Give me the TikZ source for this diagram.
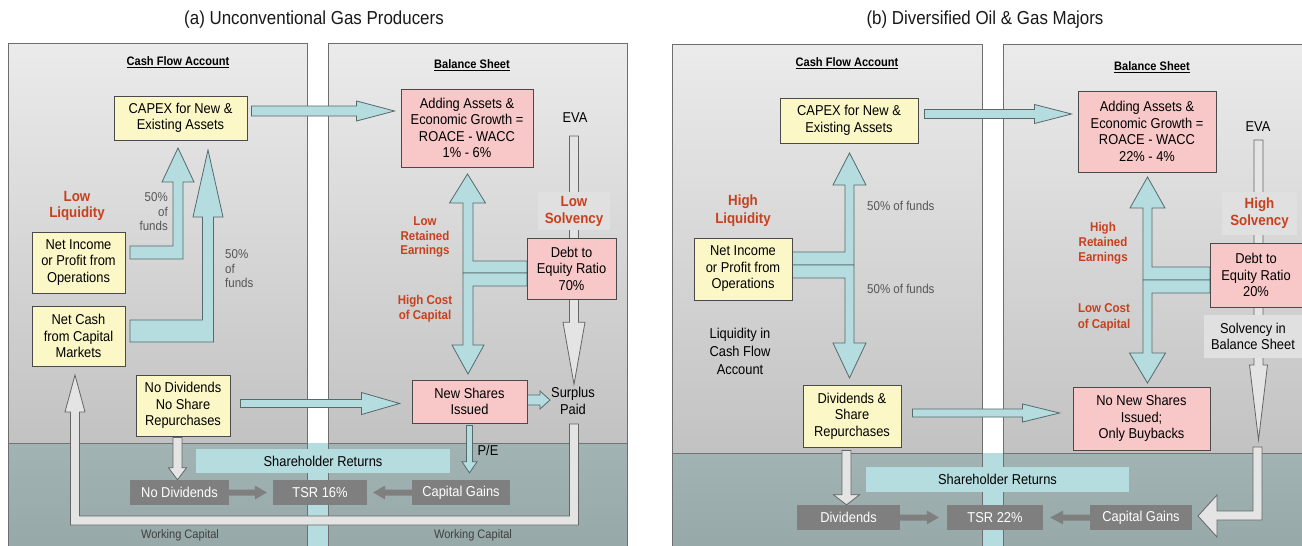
\documentclass[tikz,border=0pt]{standalone}
\usepackage{fontspec}
\setmainfont[FakeStretch=0.9]{Liberation Sans}
\usetikzlibrary{calc}
\pgfdeclarelayer{bg}
\pgfdeclarelayer{arr}
\pgfsetlayers{bg,arr,main}
\definecolor{cy}{HTML}{B5DDE0}
\definecolor{cyb}{HTML}{56696B}
\definecolor{yel}{HTML}{FBF7C6}
\definecolor{pnk}{HTML}{F8C8C8}
\definecolor{bx}{HTML}{4A4A4A}
\definecolor{dg}{HTML}{7F7F7F}
\definecolor{lg}{HTML}{E4E4E4}
\definecolor{rd}{HTML}{C8401E}
\definecolor{pnl}{HTML}{6E6E6E}
\definecolor{ptop}{HTML}{EBEBEB}
\definecolor{pbot}{HTML}{C2C2C2}
\definecolor{btop}{HTML}{A2B3B3}
\definecolor{bbot}{HTML}{96A8A8}
\definecolor{lblbg}{HTML}{E0E0E0}
\definecolor{smallgray}{HTML}{555555}
\newcommand\HArr[6]{\path[#1] let \p1=(#2), \p2=(#3) in
  (\x1,\y1+#4) -- (\x2-#6,\y1+#4) -- (\x2-#6,\y1+#5) -- (\x2,\y1) --
  (\x2-#6,\y1-#5) -- (\x2-#6,\y1-#4) -- (\x1,\y1-#4) -- cycle;}
\newcommand\VArr[6]{\path[#1] let \p1=(#2), \p2=(#3) in
  (\x1+#4,\y1) -- (\x1+#4,\y2-#6) -- (\x1+#5,\y2-#6) -- (\x1,\y2) --
  (\x1-#5,\y2-#6) -- (\x1-#4,\y2-#6) -- (\x1-#4,\y1) -- cycle;}
\begin{document}
\begin{tikzpicture}[x=1pt,y=-1pt,
  boxfont/.style={font=\fontsize{14.3}{16.5}\selectfont},
  ybox/.style={draw=bx, line width=0.9pt, fill=yel, align=center, inner sep=0pt, boxfont},
  pbox/.style={draw=bx, line width=0.9pt, fill=pnk, align=center, inner sep=0pt, boxfont},
  gbox/.style={fill=dg, text=white, inner sep=0pt, font=\fontsize{14.3}{16}\selectfont},
  band/.style={fill=cy, inner sep=0pt, font=\fontsize{14.3}{16}\selectfont},
  redlbl/.style={text=rd, align=center, inner sep=1pt},
  hdlbl/.style={font=\bfseries\fontsize{12.3}{14}\selectfont, inner sep=1pt},
  ttl/.style={font=\fontsize{18.8}{21}\selectfont, text=black!90},
  smalllbl/.style={font=\fontsize{12.8}{14.5}\selectfont, text=smallgray, inner sep=0pt},
  wclbl/.style={font=\fontsize{12.3}{14}\selectfont, text=black!75, inner sep=0pt},
  plain/.style={boxfont, align=center, inner sep=1pt},
  lblbox/.style={fill=lblbg, inner sep=0pt, align=center},
  cyarr/.style={fill=cy, draw=cyb, line width=0.8pt, line join=miter},
  grarr/.style={fill=lg, draw=black!60, line width=0.8pt, line join=miter},
  dgarr/.style={fill=dg}
]
\useasboundingbox (0,0) rectangle (1302,546);
\clip (0,0) rectangle (1302,546);

% ---------------- backgrounds ----------------
\begin{pgfonlayer}{bg}
\fill[white] (0,0) rectangle (1302,546);
% panel (a)
\shade[top color=ptop, bottom color=pbot] (8,43) rectangle (307,443);
\shade[top color=ptop, bottom color=pbot] (328,43) rectangle (627,443);
\shade[top color=btop, bottom color=bbot] (8,443) rectangle (627,550);
\fill[cy] (307,443) rectangle (328,550);
\draw[black!55, line width=0.6pt] (8,443) -- (307,443) (328,443) -- (627,443);
\draw[pnl, line width=1pt] (8,550) -- (8,43) -- (307,43) -- (307,550);
\draw[pnl, line width=1pt] (328,550) -- (328,43) -- (627,43) -- (627,550);
% panel (b)
\shade[top color=ptop, bottom color=pbot] (672,44) rectangle (982,453);
\shade[top color=ptop, bottom color=pbot] (1003,44) rectangle (1310,453);
\shade[top color=btop, bottom color=bbot] (672,453) rectangle (1310,550);
\fill[cy] (982,453) rectangle (1003,550);
\draw[black!55, line width=0.6pt] (672,453) -- (982,453) (1003,453) -- (1310,453);
\draw[pnl, line width=1pt] (672,550) -- (672,44) -- (982,44) -- (982,550);
\draw[pnl, line width=1pt] (1003,550) -- (1003,44) -- (1310,44);
\end{pgfonlayer}

% ---------------- titles and headings ----------------
\node[ttl] (tA) at (314,20) {(a) Unconventional Gas Producers};
\node[ttl] (tB) at (985,20) {(b) Diversified Oil \& Gas Majors};
\node[hdlbl] (cfA) at (178,62) {\underline{Cash Flow Account}};
\node[hdlbl] (bsA) at (472,65) {\underline{Balance Sheet}};
\node[hdlbl] (cfB) at (847,63) {\underline{Cash Flow Account}};
\node[hdlbl] (bsB) at (1152,67) {\underline{Balance Sheet}};

% ---------------- panel (a) nodes ----------------
\node[ybox, minimum width=133pt, minimum height=44pt] (capA) at (180.5,118) {CAPEX for New \&\\Existing Assets};
\node[pbox, minimum width=132pt, minimum height=78pt] (addA) at (467,128) {Adding Assets \&\\Economic Growth =\\ROACE - WACC\\1\% - 6\%};
\node[plain] (evaA) at (575,118) {EVA};
\node[lblbox, minimum width=72pt, minimum height=38pt, redlbl, font=\bfseries\fontsize{14.8}{17}\selectfont] (lsA) at (574,211) {Low\\Solvency};
\node[pbox, minimum width=89pt, minimum height=61pt] (debtA) at (571.5,268.5) {Debt to\\Equity Ratio\\70\%};
\node[redlbl, font=\bfseries\fontsize{14.8}{16}\selectfont] (llA) at (77,206) {Low\\Liquidity};
\node[ybox, minimum width=93pt, minimum height=61pt] (niA) at (78.5,262.5) {Net Income\\or Profit from\\Operations};
\node[ybox, minimum width=93pt, minimum height=60pt] (ncA) at (78.5,336) {Net Cash\\from Capital\\Markets};
\node[ybox, minimum width=94pt, minimum height=61pt] (ndA) at (183,405.5) {No Dividends\\No Share\\Repurchases};
\node[pbox, minimum width=115pt, minimum height=43pt] (nsA) at (469.5,401.5) {New Shares\\Issued};
\node[plain] (spA) at (573,401) {Surplus\\Paid};
\node[redlbl, font=\bfseries\fontsize{12.8}{14.5}\selectfont] (lreA) at (425,237) {Low\\Retained\\Earnings};
\node[redlbl, font=\bfseries\fontsize{12.8}{15}\selectfont] (hccA) at (425,309) {High Cost\\of Capital};
\node[smalllbl, align=right, anchor=east] (f1A) at (168,212) {50\%\\of\\funds};
\node[smalllbl, align=left, anchor=west] (f2A) at (225,269) {50\%\\of\\funds};
\node[plain] (peA) at (488,450) {P/E};
\node[band, minimum width=254pt, minimum height=24pt] (srA) at (323,461) {Shareholder Returns};
\node[gbox, minimum width=99pt, minimum height=25pt] (ndgA) at (179.5,492.5) {No Dividends};
\node[gbox, minimum width=94pt, minimum height=25pt] (tsrA) at (320,492.5) {TSR 16\%};
\node[gbox, minimum width=98pt, minimum height=25pt] (cgA) at (461,492.5) {Capital Gains};
\node[wclbl] (wc1A) at (180,535) {Working Capital};
\node[wclbl] (wc2A) at (473,535) {Working Capital};

% ---------------- panel (b) nodes ----------------
\node[ybox, minimum width=138pt, minimum height=45pt] (capB) at (849,120.5) {CAPEX for New \&\\Existing Assets};
\node[pbox, minimum width=138pt, minimum height=81pt] (addB) at (1147,131.5) {Adding Assets \&\\Economic Growth =\\ROACE - WACC\\22\% - 4\%};
\node[plain] (evaB) at (1258,127) {EVA};
\node[lblbox, minimum width=75pt, minimum height=43pt, redlbl, font=\bfseries\fontsize{14.8}{17}\selectfont] (hsB) at (1259.5,213.5) {High\\Solvency};
\node[pbox, minimum width=92pt, minimum height=64pt] (debtB) at (1256,275) {Debt to\\Equity Ratio\\20\%};
\node[lblbox, minimum width=98pt, minimum height=43pt, boxfont] (sbB) at (1253,336.5) {Solvency in\\Balance Sheet};
\node[redlbl, font=\bfseries\fontsize{14.8}{18}\selectfont] (hlB) at (743,211) {High\\Liquidity};
\node[ybox, minimum width=98pt, minimum height=62pt] (niB) at (743,269) {Net Income\\or Profit from\\Operations};
\node[smalllbl, anchor=west] (f1B) at (867,206) {50\% of funds};
\node[smalllbl, anchor=west] (f2B) at (867,289) {50\% of funds};
\node[plain, font=\fontsize{14.3}{18}\selectfont] (liqB) at (740,351) {Liquidity in\\Cash Flow\\Account};
\node[ybox, minimum width=98pt, minimum height=62pt] (divB) at (852,416) {Dividends \&\\Share\\Repurchases};
\node[redlbl, font=\bfseries\fontsize{12.8}{15}\selectfont] (hreB) at (1103,243) {High\\Retained\\Earnings};
\node[redlbl, font=\bfseries\fontsize{12.8}{16}\selectfont] (lccB) at (1104,317) {Low Cost\\of Capital};
\node[pbox, minimum width=137pt, minimum height=63pt] (nnsB) at (1141.5,418.5) {No New Shares\\Issued;\\Only Buybacks};
\node[band, minimum width=263pt, minimum height=25pt] (srB) at (997.5,479.5) {Shareholder Returns};
\node[gbox, minimum width=103pt, minimum height=25pt] (dvgB) at (848.5,517.5) {Dividends};
\node[gbox, minimum width=96pt, minimum height=25pt] (tsrB) at (995,517.5) {TSR 22\%};
\node[gbox, minimum width=102pt, minimum height=25pt] (cgB) at (1141,517.5) {Capital Gains};
\coordinate (evaBt) at (1258.5,440);

% ---------------- connectors ----------------
\begin{pgfonlayer}{arr}
% panel (a)
\HArr{cyarr}{$(capA.east)+(4,-7)$}{$(addA.west)+(-6,0)$}{5pt}{10pt}{38pt}
\HArr{cyarr}{$(ndA.east)+(10,-2)$}{$(nsA.west)+(-12,0)$}{4pt}{11pt}{38pt}
\HArr{cyarr}{$(nsA.east)+(0,-1.5)$}{$(spA.west)+(0,0)$}{5pt}{9pt}{10pt}
\VArr{cyarr}{$(nsA.south)+(0,2)$}{$(cgA.north)+(0,-7)$}{3pt}{7.5pt}{-11pt}
\VArr{grarr}{$(ndA.south)+(-5.5,1)$}{ndgA.north}{4.5pt}{9pt}{-12pt}
\VArr{grarr}{$(evaA.center)+(-1,18)$}{$(spA.north)+(0,-2)$}{4.5pt}{11pt}{-62pt}
\HArr{dgarr}{ndgA.east}{$(tsrA.west)+(-6,0)$}{3pt}{7pt}{12pt}
\HArr{dgarr}{cgA.west}{$(tsrA.east)+(6,0)$}{3pt}{7pt}{-12pt}
% feeders into CAPEX (a)
\draw[cyarr] (130,246) -- (173,246) -- (173,182) -- (162,182) -- (178,148) -- (194,182) -- (183,182) -- (183,259) -- (130,259) -- cycle;
\draw[cyarr] (130,320) -- (202.5,320) -- (202.5,217) -- (193,217) -- (208,150) -- (223,217) -- (213.5,217) -- (213.5,342) -- (130,342) -- cycle;
% debt -> adding assets / new shares (a)
\draw[cyarr] (527,261) -- (473,261) -- (473,203) -- (485.5,203) -- (467.5,174) -- (449.5,203) -- (463,203) -- (463,273) -- (527,273) -- cycle;
\draw[cyarr] (527,273) -- (463,273) -- (463,345) -- (452,345) -- (468,374) -- (484,345) -- (473,345) -- (473,286) -- (527,286) -- cycle;
% working capital loop (a)
\draw[grarr] (569.5,424) -- (578.5,424) -- (578.5,525) -- (70.5,525) -- (70.5,412) -- (65,412) -- (75,375) -- (85,412) -- (79.5,412) -- (79.5,516) -- (569.5,516) -- cycle;

% panel (b)
\HArr{cyarr}{$(capB.east)+(6,-6.5)$}{$(addB.west)+(-6,0)$}{4.5pt}{9.5pt}{37pt}
\HArr{cyarr}{$(divB.east)+(11,-3)$}{$(nnsB.west)+(-13,0)$}{4pt}{9pt}{37pt}
\VArr{grarr}{$(divB.south)+(-5.5,3)$}{dvgB.north}{4.5pt}{13pt}{-10pt}
\VArr{grarr}{$(evaB.center)+(0.5,13)$}{evaBt}{4.5pt}{9pt}{-75pt}
\HArr{dgarr}{dvgB.east}{$(tsrB.west)+(-8,0)$}{3pt}{7pt}{12pt}
\HArr{dgarr}{cgB.west}{$(tsrB.east)+(7,0)$}{3pt}{7pt}{-13pt}
\draw[cyarr] (792,252) -- (845,252) -- (845,185) -- (833,185) -- (849.5,153) -- (866,185) -- (854,185) -- (854,265) -- (792,265) -- cycle;
\draw[cyarr] (792,265) -- (854,265) -- (854,343) -- (866,343) -- (849.5,378) -- (833,343) -- (845,343) -- (845,278) -- (792,278) -- cycle;
\draw[cyarr] (1210,267) -- (1152,267) -- (1152,208) -- (1165,208) -- (1147.5,177) -- (1130,208) -- (1143,208) -- (1143,280) -- (1210,280) -- cycle;
\draw[cyarr] (1210,280) -- (1143,280) -- (1143,353) -- (1129.5,353) -- (1147.5,383) -- (1165.5,353) -- (1152,353) -- (1152,293) -- (1210,293) -- cycle;
\draw[grarr] (1253,447) -- (1262,447) -- (1262,520) -- (1217,520) -- (1217,537) -- (1198,516) -- (1217,495) -- (1217,511) -- (1253,511) -- cycle;
\end{pgfonlayer}
\end{tikzpicture}
\end{document}
